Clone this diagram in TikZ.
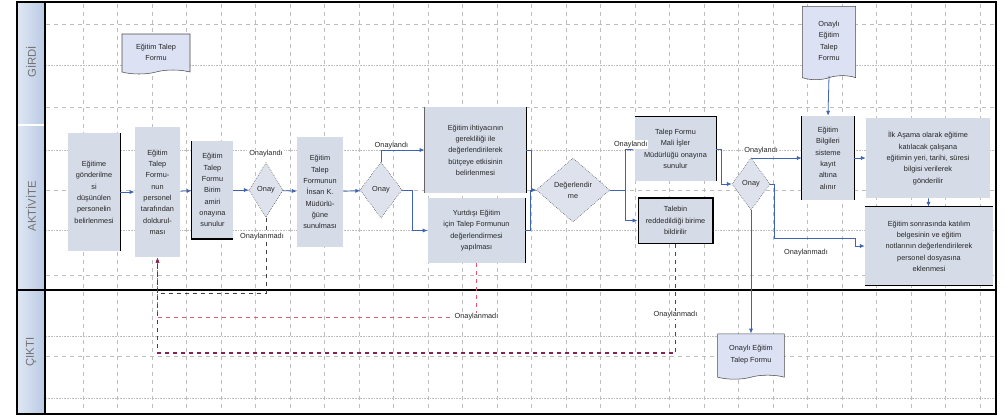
\documentclass[tikz,border=0pt]{standalone}
\usepackage{fontspec}
\setmainfont{Liberation Sans}
\usetikzlibrary{arrows.meta,positioning,calc,shapes.geometric,shapes.symbols}
\definecolor{boxfill}{HTML}{D5DBE7}
\definecolor{docfill}{HTML}{DCE1F4}
\definecolor{lanefill}{HTML}{B9CAE4}
\definecolor{flowblue}{HTML}{3F63B0}
\definecolor{backred}{HTML}{E05A74}
\definecolor{backplum}{HTML}{86205A}
\definecolor{gridgray}{HTML}{BDBDBD}

\begin{document}
\begin{tikzpicture}[x=0.75pt,y=-0.75pt,
  every node/.style={font=\fontsize{5.5}{8.5}\selectfont, text=black!85},
  stepbox/.style={fill=boxfill, align=center, inner sep=1pt},
  decision/.style={diamond, draw=black!80, densely dotted, fill=boxfill!80, inner sep=0pt, align=center},
  docbox/.style={tape, tape bend top=none, tape bend height=3pt, draw=black!70, fill=docfill, align=center, inner sep=1pt},
  arr/.style={-{Latex[length=1.3mm,width=1.1mm]}, flowblue, semithick},
  edge/.style={line width=1.1pt},
  lbl/.style={font=\fontsize{5.5}{6.5}\selectfont, fill=white, inner sep=0.6pt},
  lanelbl/.style={rotate=90, font=\fontsize{8.5}{9}\selectfont, text=black!55}
]
\useasboundingbox (0,0) rectangle (1007,419);

% grid
\foreach \gx in {83,117.5,...,990} \draw[gridgray, dashed, very thin] (\gx,4) -- (\gx,412);
\foreach \gy in {24,107,190,275,356} \draw[gridgray, dashed, thin] (46,\gy) -- (995,\gy);
\foreach \gy in {65,150,230,336,398} \draw[gridgray, densely dotted, very thin] (46,\gy) -- (995,\gy);

% lanes
\shade[left color=lanefill!45!white, right color=lanefill] (17,2) rectangle (45,414);
\draw[white, thick] (18,125) -- (44,125);
\draw[edge] (17,2) rectangle (996,414);
\draw[edge] (45,2) -- (45,414);
\draw[edge] (17,290) -- (996,290);
\node[lanelbl] (lgirdi) at (31,62) {GİRDİ};
\node[lanelbl] (laktivite) at (31,206) {AKTİVİTE};
\node[lanelbl] (lcikti) at (31,352) {ÇIKTI};

% girdi
\node[docbox, minimum width=51pt, minimum height=30pt] (talepformu) at (156,52) {Eğitim Talep\\Formu};
\node[docbox, minimum width=40pt, minimum height=55pt] (onayliform2) at (829,41) {Onaylı\\Eğitim\\Talep\\Formu};

% aktivite
\node[stepbox, minimum width=39pt, minimum height=88pt] (secim) at (94,192) {Eğitime\\gönderilme\\si\\düşünülen\\personelin\\belirlenmesi};
\node[stepbox, minimum width=34pt, minimum height=98pt] (talepdoldur) at (157.5,192) {Eğitim\\Talep\\Formu-\\nun\\personel\\tarafından\\doldurul-\\ması};
\node[stepbox, minimum width=31pt, minimum height=73pt] (amironay) at (212.5,190) {Eğitim\\Talep\\Formu\\Birim\\amiri\\onayına\\sunulur};
\node[decision, minimum width=25.5pt, minimum height=41pt] (onay1) at (266,190) {Onay};
\node[stepbox, minimum width=34.5pt, minimum height=83pt] (iksun) at (320,192) {Eğitim\\Talep\\Formunun\\İnsan K.\\Müdürlü-\\ğüne\\sunulması};
\node[decision, minimum width=31.5pt, minimum height=42pt] (onay2) at (381,190) {Onay};
\node[stepbox, minimum width=76pt, minimum height=64pt] (butce) at (475.5,150) {Eğitim ihtiyacının\\gerekliliği ile\\değerlendirilerek\\bütçeye etkisinin\\belirlenmesi};
\node[stepbox, minimum width=73pt, minimum height=49pt] (yurtdisi) at (476.5,230.5) {Yurtdışı Eğitim\\için Talep Formunun\\değerlendirmesi\\yapılması};
\node[decision, minimum width=55pt, minimum height=48pt] (degerlendir) at (573,190) {Değerlendir\\me};
\node[stepbox, minimum width=61pt, minimum height=48pt] (maliis) at (675.5,149) {Talep Formu\\Mali İşler\\Müdürlüğü onayına\\sunulur};
\node[stepbox, draw, line width=1pt, minimum width=56pt, minimum height=34pt] (ret) at (675.5,220.5) {Talebin\\reddedildiği birime\\bildirilir};
\node[decision, minimum width=28.5pt, minimum height=39pt] (onay3) at (751,184) {Onay};
\node[stepbox, minimum width=39pt, minimum height=63pt] (kayit) at (828,158) {Eğitim\\Bilgileri\\sisteme\\kayıt\\altına\\alınır};
\node[stepbox, minimum width=93pt, minimum height=60pt] (duyuru) at (928,158) {İlk Aşama olarak eğitime\\katılacak çalışana\\eğitimin yeri, tarihi, süresi\\bilgisi verilerek\\gönderilir};
\node[stepbox, minimum width=96pt, minimum height=58.5pt] (sonuc) at (929,246) {Eğitim sonrasında katılım\\belgesinin ve eğitim\\notlarının değerlendirilerek\\personel dosyasına\\eklenmesi};

% cikti
\node[docbox, minimum width=50pt, minimum height=34pt] (onayliform) at (751,354.5) {Onaylı Eğitim\\Talep Formu};

% heavy side lines
\draw[edge] (secim.north east) -- (secim.south east);
\draw[edge] (amironay.north west) -- (amironay.south west) -- (amironay.south east);
\draw[edge, black!60] (butce.north west) -- (butce.south west);
\draw[edge] (butce.north east) -- (butce.south east);
\draw[edge] (yurtdisi.north east) -- (yurtdisi.south east);
\draw[edge] (maliis.north west) -- (maliis.north east) -- (maliis.south east);
\draw[edge] (kayit.north west) -- (kayit.south west);
\draw[edge] (kayit.north east) -- (kayit.south east);
\draw[edge] (sonuc.north west) -- (sonuc.north east);
\draw[edge] (sonuc.south west) -- (sonuc.south east);

% flow
\draw[arr] (secim) -- (talepdoldur);
\draw[arr] (talepdoldur) -- (amironay);
\draw[arr] (amironay) -- (onay1);
\draw[arr] (onay1) -- (iksun);
\node[lbl, above=3pt of onay1] (onaylandi1) {Onaylandı};
\draw[arr] (iksun) -- (onay2);
\draw[arr] (onay2.north) |- (butce.west) node[lbl, pos=0.62, above] {Onaylandı};
\draw[arr] (onay2.east) -- ++(10,0) |- (yurtdisi.west);
\draw[arr] (butce.east) -- ++(5,0) |- (degerlendir.west);
\draw[arr] (yurtdisi.east) -- ++(5,0) |- (degerlendir.west);
\draw[arr] (degerlendir.east) -- ++(15,0) |- (maliis.west) node[lbl, pos=0.8, above] {Onaylandı};
\draw[arr] (degerlendir.east) -- ++(15,0) |- (ret.west);
\draw[arr] (maliis.east) -- ++(5,0) |- (onay3.west);
\draw[arr] (onay3.north) |- (kayit.west) node[lbl, pos=0.6, above=2pt] {Onaylandı};
\coordinate (redyol) at (855,238);
\draw[arr] (onay3.east) -- ++(4,0) |- (redyol) |- (sonuc.west);
\node[lbl] (onaylanmadi4) at (806,253) {Onaylanmadı};
\draw[arr] (onay3.south) -- (onayliform.north);
\draw[arr] (onayliform2.south) -- (kayit.north);
\draw[arr] (kayit) -- (duyuru);
\draw[arr] (duyuru) -- (sonuc);

% return paths
\coordinate (geri1) at (0,293);
\coordinate (geri2) at (0,317);
\coordinate (geri3) at (0,353);
\draw[-{Latex[length=1.3mm]}, black!75, dashed] (onay1.south) -- (onay1.south |- geri1) -| (talepdoldur.south);
\node[lbl] (onaylanmadi1) at (262,237) {Onaylanmadı};
\draw[-{Latex[length=1.3mm]}, backred, dashed] (yurtdisi.south) -- (yurtdisi.south |- geri2) node[lbl] {Onaylanmadı} -| (talepdoldur.south);
\draw[-{Latex[length=1.3mm]}, backplum, dashed, line width=1pt] (ret.south) -- (ret.south |- geri3) node[lbl, pos=0.65] {Onaylanmadı} -| (talepdoldur.south);
\end{tikzpicture}
\end{document}
